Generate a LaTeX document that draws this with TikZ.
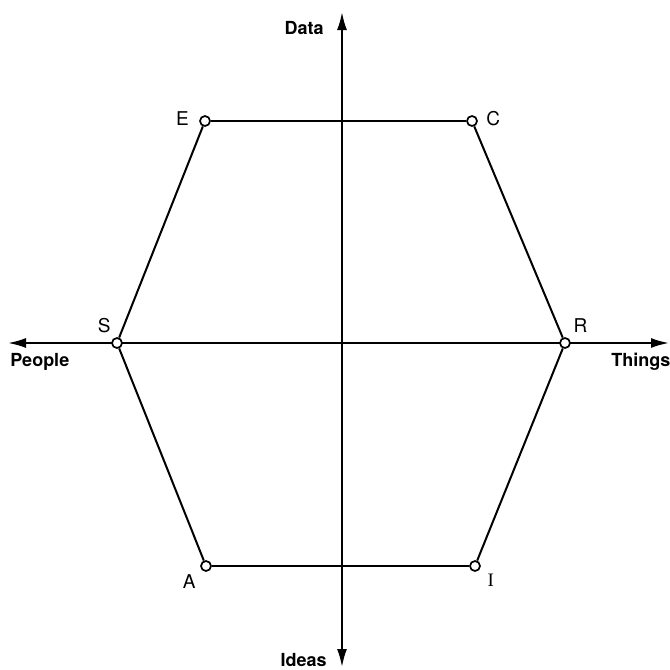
\documentclass[tikz,border=0pt]{standalone}
\usepackage{fontspec}
\setmainfont{TeX Gyre Heros}
\newfontfamily\serifletter{Liberation Serif}
\usepackage{tikz}
\usetikzlibrary{arrows.meta,positioning}

\begin{document}
\begin{tikzpicture}[
        x=0.5pt, y=-0.5pt,
        vertex/.style={circle, draw, fill=white, line width=0.85pt, inner sep=0pt, minimum size=5pt},
        axis/.style={line width=1pt, {Latex[length=9pt,width=5pt]}-{Latex[length=9pt,width=5pt]}},
        edge/.style={line width=1pt},
        axislabel/.style={font=\fontsize{9}{10}\selectfont\bfseries, inner sep=1pt},
        vlabel/.style={font=\fontsize{9.5}{10}\selectfont, inner sep=1pt}
    ]
    \useasboundingbox (0,0) rectangle (670,670);

    % Axes
    \coordinate (top) at (342,12);
    \coordinate (bottom) at (342,667);
    \coordinate (left) at (8,343);
    \coordinate (right) at (669,343);
    \draw[axis] (bottom) -- (top);
    \draw[axis] (left) -- (right);

    % Axis labels
    \node[axislabel, anchor=east] (data) at (326,28) {Data};
    \node[axislabel, anchor=east] (ideas) at (329,660) {Ideas};
    \node[axislabel, anchor=west] (people) at (8,362) {People};
    \node[axislabel, anchor=west] (things) at (609,362) {Things};

    % Hexagon
    \node[vertex] (E) at (205,121) {};
    \node[vertex] (C) at (472,121) {};
    \node[vertex] (S) at (117,343) {};
    \node[vertex] (R) at (565,343) {};
    \node[vertex] (A) at (206,566) {};
    \node[vertex] (I) at (475,566) {};

    \draw[edge] (E) -- (C);
    \draw[edge] (C) -- (R);
    \draw[edge] (R) -- (I);
    \draw[edge] (I) -- (A);
    \draw[edge] (A) -- (S);
    \draw[edge] (S) -- (E);

    % Vertex letters
    \node[vlabel, left=4pt of E, yshift=1pt] (lE) {E};
    \node[vlabel, right=3pt of C, yshift=1pt] (lC) {C};
    \node[vlabel, above left=2pt and 0pt of S] (lS) {S};
    \node[vlabel, above right=2pt and 1pt of R] (lR) {R};
    \node[vlabel, below left=1pt and 2pt of A] (lA) {A};
    \node[vlabel, below right=1pt and 3pt of I] (lI) {\serifletter I};

\end{tikzpicture}
\end{document}
